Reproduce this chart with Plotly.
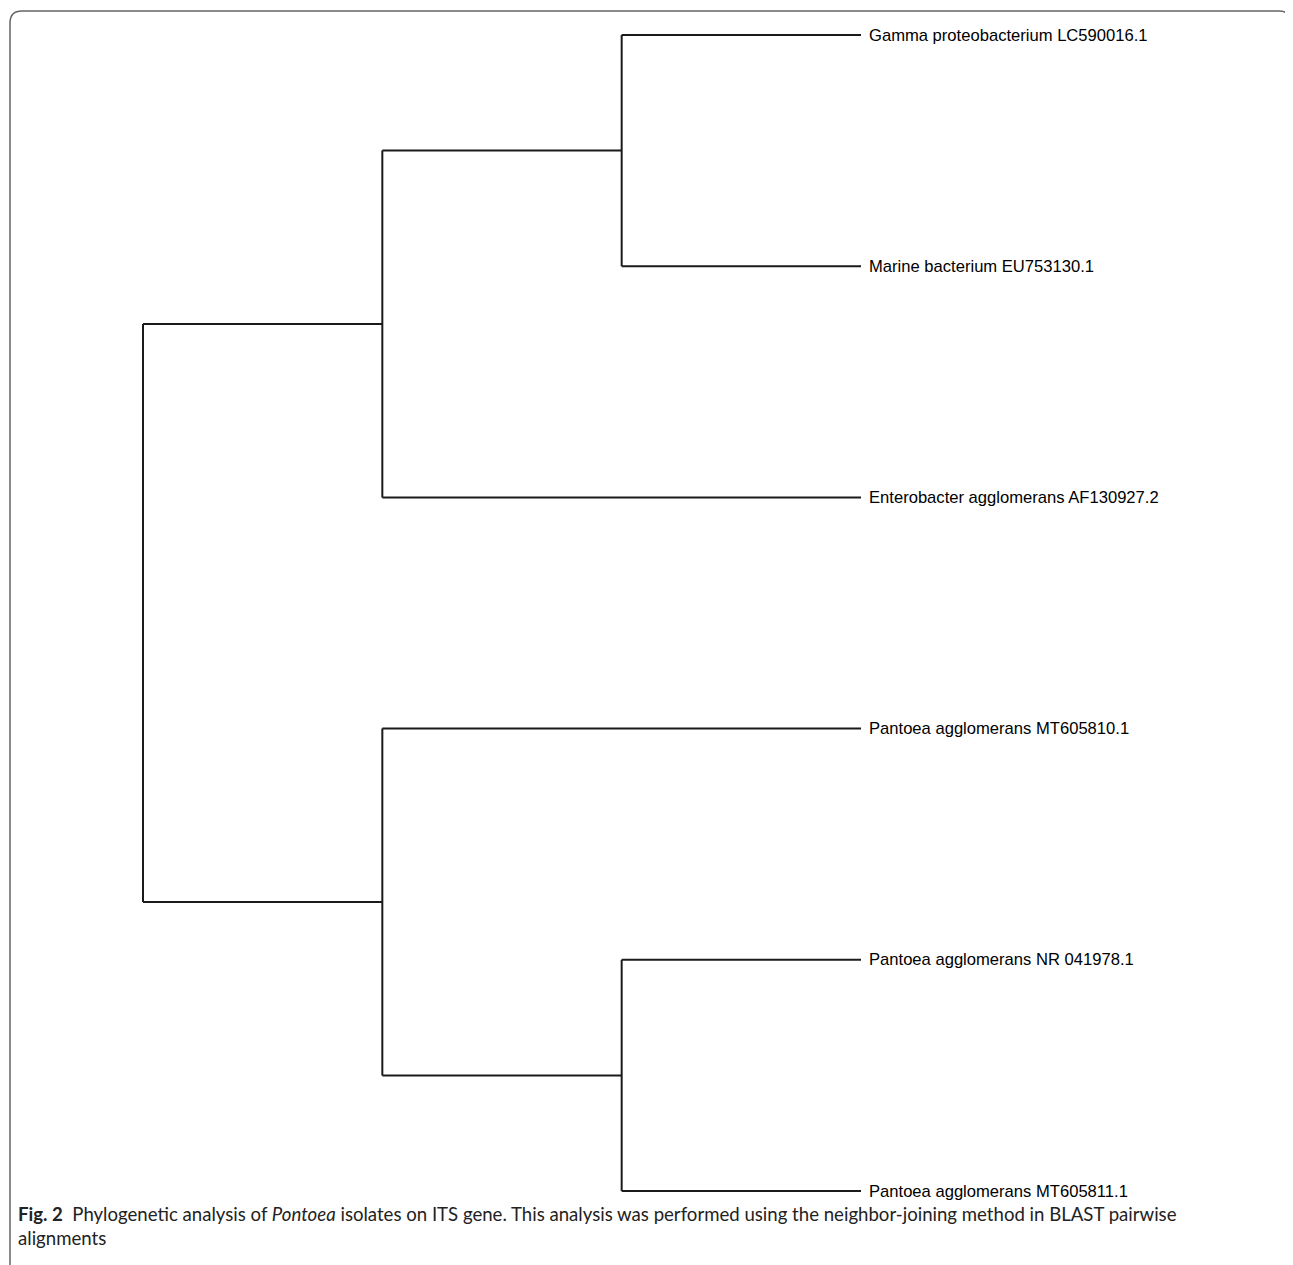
import plotly.graph_objects as go

# ---- data ----
leaf_names = [
    "Gamma proteobacterium LC590016.1",
    "Marine bacterium EU753130.1",
    "Enterobacter agglomerans AF130927.2",
    "Pantoea agglomerans MT605810.1",
    "Pantoea agglomerans NR 041978.1",
    "Pantoea agglomerans MT605811.1",
]
# tree topology as nested tuples of leaf indices
tree = (((0, 1), 2), (3, (4, 5)))

caption_line1 = ("<b>Fig. 2</b>  Phylogenetic analysis of <i>Pontoea</i> isolates on ITS gene. "
                 "This analysis was performed using the neighbor-joining method in BLAST pairwise")
caption_line2 = "alignments"

OFF = 8                      # page body margin
W, H = 1293 - OFF, 1265 - OFF

# ---- layout of the cladogram ----
def max_depth(node, d=0):
    if isinstance(node, int):
        return d
    return max(max_depth(c, d + 1) for c in node)

LEAF_X = max_depth(tree)
segs_x, segs_y = [], []

def place(node, depth):
    if isinstance(node, int):
        return node
    ys = []
    for c in node:
        cy = place(c, depth + 1)
        cx = LEAF_X if isinstance(c, int) else depth + 1
        segs_x.extend([depth, cx, None])
        segs_y.extend([cy, cy, None])
        ys.append(cy)
    segs_x.extend([depth, depth, None])
    segs_y.extend([min(ys), max(ys), None])
    return (min(ys) + max(ys)) / 2

place(tree, 0)

fig = go.Figure()
fig.add_trace(go.Scatter(x=segs_x, y=segs_y, mode="lines",
                         line=dict(color="#1a1a1a", width=2),
                         hoverinfo="skip", showlegend=False))

for i, name in enumerate(leaf_names):
    fig.add_annotation(x=LEAF_X, y=i, text=name, showarrow=False,
                       xanchor="left", yanchor="middle", xshift=6,
                       font=dict(family="Liberation Sans, Arial", size=16.6, color="#000"))

# axis ranges: root ~143px, leaves end ~861px, first leaf ~35px, last ~1191px (screen)
px_per_x = (861 - 143) / LEAF_X
x0 = -(143 - OFF) / px_per_x
x1 = x0 + W / px_per_x
px_per_y = (1191 - 35) / (len(leaf_names) - 1)
y0 = -(35 - OFF) / px_per_y
y1 = y0 + H / px_per_y

fig.update_xaxes(range=[x0, x1], visible=False, fixedrange=True)
fig.update_yaxes(range=[y1, y0], visible=False, fixedrange=True)

# rounded frame (top, left, right edges)
r = 12
fx0, fy0 = (10 - OFF) / W, 1 - (11 - OFF) / H
fx1, fy1 = (1291 - OFF) / W, 0.0
rx, ry = r / W, r / H
path = (f"M {fx0},{fy1} L {fx0},{fy0 - ry} Q {fx0},{fy0} {fx0 + rx},{fy0} "
        f"L {fx1 - rx},{fy0} Q {fx1},{fy0} {fx1},{fy0 - ry} L {fx1},{fy1}")
fig.add_shape(type="path", path=path, xref="paper", yref="paper",
              line=dict(color="#666", width=1.5))

cap_font = dict(family="Lato, Open Sans", size=18.6, color="#222")
fig.add_annotation(x=(16 - OFF) / W, y=1 - (1214 - OFF) / H, xref="paper", yref="paper",
                   text=caption_line1, showarrow=False, xanchor="left", yanchor="middle",
                   font=cap_font)
fig.add_annotation(x=(16 - OFF) / W, y=1 - (1238 - OFF) / H, xref="paper", yref="paper",
                   text=caption_line2, showarrow=False, xanchor="left", yanchor="middle",
                   font=cap_font)

fig.update_layout(width=W, height=H, margin=dict(l=0, r=0, t=0, b=0),
                  paper_bgcolor="white", plot_bgcolor="white")

fig.write_html("out.html")
